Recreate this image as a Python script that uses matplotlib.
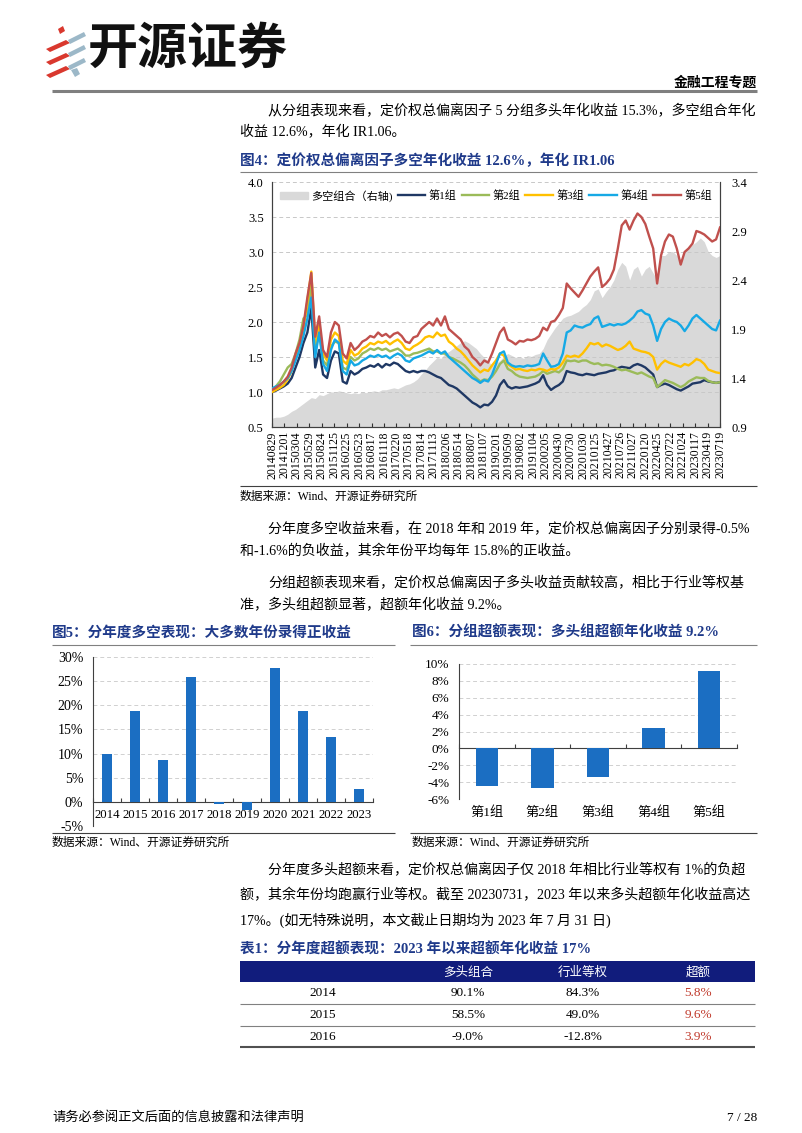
import matplotlib
matplotlib.use("Agg")
import matplotlib.pyplot as plt
from matplotlib.lines import Line2D
from matplotlib.patches import Patch, Polygon, Rectangle
from matplotlib.ticker import FuncFormatter, FixedLocator, NullFormatter
import numpy as np

FAM = ['Liberation Serif', 'Noto Sans CJK SC']
plt.rcParams['font.family'] = FAM
plt.rcParams['axes.unicode_minus'] = False

# ---------------- data ----------------
dates = ['20140829', '20141201', '20150304', '20150529', '20150824', '20151125', '20160225',
         '20160523', '20160817', '20161118', '20170220', '20170518', '20170814', '20171113',
         '20180206', '20180514', '20180807', '20181107', '20190201', '20190509', '20190802',
         '20191104', '20200205', '20200430', '20200730', '20201030', '20210125', '20210427',
         '20210726', '20211027', '20220120', '20220425', '20220722', '20221024', '20230117',
         '20230419', '20230719']

group5 = [1.03, 1.06, 1.10, 1.15, 1.22, 1.35, 1.55, 1.70, 1.95, 2.35, 2.70, 1.79, 2.08, 1.60, 1.50, 1.85, 2.00, 1.95, 1.55, 1.48,
          1.70, 1.60, 1.65, 1.72, 1.75, 1.80, 1.78, 1.85, 1.80, 1.83,
          1.78, 1.83, 1.85, 1.80, 1.72, 1.70, 1.78, 1.80, 1.90, 1.95,
          2.00, 1.95, 2.05, 1.95, 2.08, 1.90, 1.85, 1.80, 1.75, 1.65,
          1.60, 1.50, 1.45, 1.38, 1.45, 1.42, 1.55, 1.70, 1.85, 1.92,
          1.75, 1.72, 1.68, 1.73, 1.72, 1.75, 1.74, 1.76, 1.80, 1.92,
          1.88, 2.00, 2.02, 2.10, 2.20, 2.55, 2.48, 2.42, 2.36, 2.45,
          2.55, 2.65, 2.72, 2.78, 2.50, 2.55, 2.62, 2.75, 3.05, 3.38,
          3.45, 3.32, 3.45, 3.55, 3.50, 3.40, 3.22, 3.05, 2.55, 2.95,
          3.15, 3.25, 3.22, 3.05, 2.82, 3.00, 3.05, 3.12, 3.30, 3.28,
          3.25, 3.20, 3.15, 3.18, 3.35]

group3 = [1.00, 1.03, 1.06, 1.10, 1.18, 1.30, 1.50, 1.65, 1.90, 2.30, 2.72, 1.70, 1.95, 1.55, 1.45, 1.75, 1.85, 1.80, 1.45, 1.40,
          1.60, 1.52, 1.55, 1.62, 1.65, 1.70, 1.68, 1.72, 1.70, 1.73,
          1.68, 1.72, 1.75, 1.70, 1.62, 1.60, 1.65, 1.68, 1.72, 1.78,
          1.80, 1.78, 1.85, 1.80, 1.82, 1.72, 1.68, 1.62, 1.58, 1.52,
          1.45, 1.38, 1.33, 1.28, 1.32, 1.30, 1.38, 1.45, 1.55, 1.52,
          1.40, 1.36, 1.32, 1.33, 1.31, 1.30, 1.32, 1.31, 1.33, 1.32,
          1.30, 1.33, 1.32, 1.35, 1.42, 1.52, 1.50, 1.52, 1.50, 1.55,
          1.62, 1.70, 1.68, 1.70, 1.65, 1.68, 1.66, 1.63, 1.60, 1.62,
          1.66, 1.72, 1.62, 1.60, 1.58, 1.57, 1.55, 1.50, 1.32, 1.40,
          1.45, 1.42, 1.40, 1.38, 1.36, 1.40, 1.38, 1.42, 1.47, 1.45,
          1.40, 1.32, 1.30, 1.28, 1.27]

group2 = [1.02, 1.08, 1.15, 1.25, 1.35, 1.40, 1.55, 1.75, 2.05, 2.10, 2.55, 1.60, 1.85, 1.45, 1.38, 1.65, 1.72, 1.70, 1.35, 1.32,
          1.50, 1.45, 1.48, 1.55, 1.58, 1.62, 1.60, 1.63, 1.60, 1.62,
          1.58, 1.60, 1.62, 1.58, 1.52, 1.52, 1.55, 1.56, 1.58, 1.60,
          1.62, 1.58, 1.58, 1.55, 1.55, 1.50, 1.48, 1.45, 1.42, 1.38,
          1.32, 1.25, 1.20, 1.15, 1.18, 1.17, 1.22, 1.30, 1.40, 1.45,
          1.33, 1.30, 1.25, 1.22, 1.21, 1.20, 1.21, 1.22, 1.25, 1.30,
          1.26, 1.28, 1.30, 1.28, 1.33, 1.45, 1.44, 1.45, 1.43, 1.45,
          1.45, 1.42, 1.40, 1.41, 1.38, 1.39, 1.38, 1.36, 1.33, 1.31,
          1.32, 1.30, 1.28, 1.26, 1.28, 1.25, 1.22, 1.20, 1.07, 1.12,
          1.17, 1.15, 1.13, 1.10, 1.07, 1.10, 1.15, 1.18, 1.21, 1.20,
          1.20, 1.16, 1.14, 1.13, 1.14]

group4 = [1.05, 1.08, 1.10, 1.15, 1.20, 1.30, 1.45, 1.60, 1.80, 2.05, 2.35, 1.50, 1.85, 1.40, 1.30, 1.60, 1.75, 1.70, 1.30, 1.25,
          1.45, 1.38, 1.40, 1.45, 1.48, 1.52, 1.50, 1.53, 1.50, 1.52,
          1.48, 1.52, 1.55, 1.52, 1.45, 1.43, 1.48, 1.50, 1.52, 1.55,
          1.58, 1.55, 1.60, 1.55, 1.58, 1.50, 1.45, 1.40, 1.35, 1.30,
          1.25, 1.20, 1.17, 1.13, 1.17, 1.15, 1.25, 1.40, 1.55, 1.58,
          1.42, 1.38, 1.36, 1.37, 1.36, 1.38, 1.37, 1.38, 1.40, 1.55,
          1.45, 1.36, 1.37, 1.40, 1.55, 1.85, 1.88, 1.95, 1.93, 1.92,
          1.95, 1.97, 2.05, 2.08, 1.93, 1.95, 1.97, 1.95, 1.97, 1.96,
          1.98, 2.02, 2.07, 2.15, 2.17, 2.12, 2.10, 1.95, 1.73, 1.90,
          2.00, 2.05, 2.02, 2.00, 1.95, 1.87, 1.95, 2.05, 2.10, 2.05,
          2.00, 1.95, 1.90, 1.88, 2.02]

group1 = [1.00, 1.02, 1.05, 1.08, 1.12, 1.20, 1.35, 1.50, 1.70, 1.85, 2.20, 1.35, 1.60, 1.25, 1.20, 1.45, 1.58, 1.55, 1.15, 1.12,
          1.30, 1.25, 1.28, 1.33, 1.35, 1.38, 1.36, 1.40, 1.35, 1.40,
          1.38, 1.42, 1.40, 1.35, 1.30, 1.28, 1.30, 1.28, 1.30, 1.30,
          1.28, 1.25, 1.22, 1.20, 1.15, 1.10, 1.08, 1.05, 1.00, 0.95,
          0.90, 0.85, 0.82, 0.78, 0.82, 0.81, 0.86, 0.95, 1.10, 1.17,
          1.08, 1.05, 1.07, 1.06, 1.07, 1.08, 1.10, 1.12, 1.15, 1.24,
          1.10, 1.03, 1.07, 1.10, 1.15, 1.30, 1.28, 1.27, 1.25, 1.24,
          1.26, 1.25, 1.24, 1.26, 1.27, 1.28, 1.30, 1.31, 1.34, 1.36,
          1.35, 1.34, 1.38, 1.40, 1.38, 1.35, 1.30, 1.25, 1.07, 1.10,
          1.12, 1.10, 1.07, 1.04, 1.02, 1.05, 1.08, 1.12, 1.13, 1.14,
          1.17, 1.15, 1.14, 1.13, 1.14]

long_short = [0.99, 1.00, 1.00, 1.01, 1.03, 1.06, 1.08, 1.11, 1.14, 1.17, 1.20, 1.19, 1.23, 1.22, 1.24, 1.26, 1.25, 1.27, 1.26, 1.25,
              1.24, 1.25, 1.24, 1.26, 1.25, 1.26, 1.27, 1.26, 1.28, 1.28,
              1.29, 1.30, 1.29, 1.31, 1.33, 1.34, 1.36, 1.39, 1.44, 1.48,
              1.53, 1.57, 1.61, 1.60, 1.65, 1.67, 1.70, 1.73, 1.76, 1.78,
              1.76, 1.73, 1.70, 1.65, 1.61, 1.57, 1.53, 1.55, 1.58, 1.62,
              1.65, 1.63, 1.61, 1.62, 1.60, 1.63, 1.62, 1.64, 1.65, 1.70,
              1.79, 1.85, 1.91, 1.96, 2.01, 2.03, 2.04, 2.06, 2.08, 2.12,
              2.15, 2.20, 2.29, 2.31, 2.22, 2.28, 2.33, 2.40, 2.51, 2.58,
              2.54, 2.40, 2.51, 2.54, 2.44, 2.51, 2.54, 2.47, 2.40, 2.65,
              2.65, 2.69, 2.69, 2.65, 2.61, 2.69, 2.72, 2.76, 2.79, 2.83,
              2.79, 2.69, 2.65, 2.63, 2.65]

years = ['2014', '2015', '2016', '2017', '2018', '2019', '2020', '2021', '2022', '2023']
yearly_ls = [0.100, 0.188, 0.086, 0.258, -0.005, -0.016, 0.278, 0.189, 0.135, 0.026]

groups = ['第1组', '第2组', '第3组', '第4组', '第5组']
excess = [-0.045, -0.047, -0.034, 0.024, 0.092]

tbl_cols = ['多头组合', '行业等权', '超额']
tbl_years = ['2014', '2015', '2016']
tbl_long = ['90.1%', '58.5%', '-9.0%']
tbl_bench = ['84.3%', '49.0%', '-12.8%']
tbl_excess = ['5.8%', '9.6%', '3.9%']

# ---------------- page helpers ----------------
W, H = 802, 1133
fig = plt.figure(figsize=(W / 100, H / 100), dpi=100)
NAVY_T = '#1F3A8A'


def T(x, y, s, size=10, ha='left', va='center', **kw):
    return fig.text(x / W, 1 - y / H, s, fontsize=size, ha=ha, va=va, **kw)


def hline(x0, x1, y, lw=1.0, color='#404040'):
    fig.add_artist(Line2D([x0 / W, x1 / W], [1 - y / H] * 2, transform=fig.transFigure,
                          lw=lw, color=color, solid_capstyle='butt'))


def axes_px(l, t, r, b):
    return fig.add_axes([l / W, 1 - b / H, (r - l) / W, (b - t) / H])


def poly(pts, color):
    fig.add_artist(Polygon([(x / W, 1 - y / H) for x, y in pts], closed=True,
                           transform=fig.transFigure, color=color, lw=0))


# ---------------- header ----------------
RED = '#D9382E'
BLU = '#9CB8C8'
for y0 in (40, 53, 66):
    poly([(46, y0 + 9), (66, y0), (70, y0 + 3), (50, y0 + 12)], RED)
poly([(58, 29), (63, 26), (65, 31), (60, 34)], RED)
for y0 in (32, 45, 58):
    poly([(68, y0 + 8), (84, y0), (86, y0 + 4), (70, y0 + 12)], BLU)
poly([(71, 70), (77, 68), (80, 74), (75, 77)], BLU)
T(88, 49, '开源证券', size=36, family='Noto Sans CJK SC', weight='bold', color='#111111')
T(757, 83, '金融工程专题', size=10, ha='right', weight='bold', family=['Noto Sans CJK SC'])
hline(52, 757, 91, lw=2.2, color='#7F7F7F')

# ---------------- paragraph 1 ----------------
T(268, 111, '从分组表现来看，定价权总偏离因子 5 分组多头年化收益 15.3%，多空组合年化', size=10.1)
T(240, 132, '收益 12.6%，年化 IR1.06。', size=10.1)

# ---------------- figure 4 ----------------
T(240, 161, '图4：定价权总偏离因子多空年化收益 12.6%，年化 IR1.06', size=10.5, weight='bold', color=NAVY_T)
hline(240, 757, 172, lw=0.8, color='#808080')

ax = axes_px(272, 182, 720, 427)
ax2 = ax.twinx()
x = np.arange(len(group1))
ax2.fill_between(x, 0.9, long_short, color='#D9D9D9', lw=0)
ax2.set_ylim(0.9, 3.4)
ax2.set_yticks([0.9, 1.4, 1.9, 2.4, 2.9, 3.4])
ax2.yaxis.set_major_formatter(FuncFormatter(lambda v, p: f'{v:.1f}'))

cols = {'第1组': '#1F3864', '第2组': '#9BBB59', '第3组': '#FFC000', '第4组': '#16A9E5', '第5组': '#C0504D'}
series = [group1, group2, group3, group4, group5]
for name, s in zip(groups, series):
    ax.plot(x, s, color=cols[name], lw=1.7, zorder=3)
ax.set_zorder(ax2.get_zorder() + 1)
ax.patch.set_visible(False)
ax.set_ylim(0.5, 4.0)
ax.set_yticks(np.arange(0.5, 4.01, 0.5))
ax.yaxis.set_major_formatter(FuncFormatter(lambda v, p: f'{v:.1f}'))
ax.set_xlim(0, len(x) - 1)
tick_pos = np.linspace(0, len(x) - 1, len(dates))
ax.set_xticks(tick_pos)
ax.set_xticklabels(dates, rotation=90, fontsize=8.5)
ax.grid(axis='y', ls=(0, (4, 3)), color='#C8C8C8', lw=0.7)
ax.tick_params(axis='x', direction='in', length=3, pad=3, color='#333333')
ax.tick_params(axis='y', length=0, labelsize=9, pad=6)
ax2.tick_params(axis='y', length=0, labelsize=9, pad=8)
for a in (ax, ax2):
    a.spines['top'].set_visible(False)
    for sp in ('left', 'right', 'bottom'):
        a.spines[sp].set_color('#404040')
        a.spines[sp].set_linewidth(0.8)

handles = [Patch(color='#D9D9D9', label='多空组合（右轴)')] + \
          [Line2D([], [], color=cols[g], lw=1.7, label=g) for g in groups]
ax.legend(handles=handles, loc='upper center', bbox_to_anchor=(0.5, 1.0), ncol=6, frameon=False,
          fontsize=8, handlelength=2.5, handletextpad=0.3, columnspacing=0.45, borderaxespad=0.3)

hline(240, 757, 486, lw=0.8, color='#404040')
T(240, 497, '数据来源：Wind、开源证券研究所', size=8.5)

# ---------------- paragraphs 2/3 ----------------
T(268, 529, '分年度多空收益来看，在 2018 年和 2019 年，定价权总偏离因子分别录得-0.5%', size=10.1)
T(240, 551, '和-1.6%的负收益，其余年份平均每年 15.8%的正收益。', size=10.1)
T(268, 583, '分组超额表现来看，定价权总偏离因子多头收益贡献较高，相比于行业等权基', size=10.1)
T(240, 605, '准，多头组超额显著，超额年化收益 9.2%。', size=10.1)

# ---------------- figure 5 ----------------
BAR = '#1B6EC2'
T(52, 633, '图5：分年度多空表现：大多数年份录得正收益', size=10.5, weight='bold', color=NAVY_T)
hline(52, 395, 645, lw=0.8, color='#808080')
ax5 = axes_px(93, 657, 373, 826)
ax5.bar(np.arange(len(years)), yearly_ls, width=0.38, color=BAR, zorder=3)
ax5.set_ylim(-0.05, 0.30)
ax5.set_xlim(-0.5, len(years) - 0.5)
ax5.set_yticks(np.arange(-0.05, 0.301, 0.05))
ax5.yaxis.set_major_formatter(FuncFormatter(lambda v, p: f'{round(v * 100):.0f}%'))
ax5.grid(axis='y', ls=(0, (4, 3)), color='#D0D0D0', lw=0.7, zorder=0)
ax5.spines['top'].set_visible(False)
ax5.spines['right'].set_visible(False)
ax5.spines['bottom'].set_position(('data', 0))
for sp in ('left', 'bottom'):
    ax5.spines[sp].set_color('#404040')
    ax5.spines[sp].set_linewidth(0.8)
ax5.xaxis.set_major_locator(FixedLocator(np.arange(-0.5, len(years), 1.0)))
ax5.xaxis.set_major_formatter(NullFormatter())
ax5.xaxis.set_minor_locator(FixedLocator(np.arange(len(years))))
ax5.set_xticklabels(years, minor=True)
ax5.tick_params(axis='x', which='major', direction='in', length=3, color='#404040')
ax5.tick_params(axis='x', which='minor', length=0, pad=5, labelsize=9.2)
ax5.tick_params(axis='y', length=0, pad=7, labelsize=10)
hline(52, 395, 833, lw=0.8, color='#404040')
T(52, 843, '数据来源：Wind、开源证券研究所', size=8.5)

# ---------------- figure 6 ----------------
T(412, 633, '图6：分组超额表现：多头组超额年化收益 9.2%', size=10.5, weight='bold', color=NAVY_T)
hline(410, 757, 645, lw=0.8, color='#808080')
ax6 = axes_px(459, 664, 737, 799)
ax6.bar(np.arange(len(groups)), excess, width=0.4, color=BAR, zorder=3)
ax6.set_ylim(-0.06, 0.10)
ax6.set_xlim(-0.5, len(groups) - 0.5)
ax6.set_yticks(np.arange(-0.06, 0.101, 0.02))
ax6.yaxis.set_major_formatter(FuncFormatter(lambda v, p: f'{round(v * 100):.0f}%'))
ax6.grid(axis='y', ls=(0, (4, 3)), color='#D0D0D0', lw=0.7, zorder=0)
ax6.spines['top'].set_visible(False)
ax6.spines['right'].set_visible(False)
ax6.spines['bottom'].set_position(('data', 0))
for sp in ('left', 'bottom'):
    ax6.spines[sp].set_color('#404040')
    ax6.spines[sp].set_linewidth(0.8)
ax6.xaxis.set_major_locator(FixedLocator(np.arange(-0.5, len(groups), 1.0)))
ax6.xaxis.set_major_formatter(NullFormatter())
ax6.xaxis.set_minor_locator(FixedLocator(np.arange(len(groups))))
ax6.set_xticklabels(groups, minor=True)
ax6.tick_params(axis='x', which='major', direction='in', length=3, color='#404040')
ax6.tick_params(axis='x', which='minor', length=0, pad=42, labelsize=9.5)
ax6.tick_params(axis='y', length=0, pad=7, labelsize=9.5)
hline(410, 757, 833, lw=0.8, color='#404040')
T(412, 843, '数据来源：Wind、开源证券研究所', size=8.5)

# ---------------- paragraph 4 ----------------
T(268, 870, '分年度多头超额来看，定价权总偏离因子仅 2018 年相比行业等权有 1%的负超', size=10.1)
T(240, 895, '额，其余年份均跑赢行业等权。截至 20230731，2023 年以来多头超额年化收益高达', size=10.1)
T(240, 920, '17%。(如无特殊说明，本文截止日期均为 2023 年 7 月 31 日)', size=10.1)

# ---------------- table ----------------
T(240, 950, '表1：分年度超额表现：2023 年以来超额年化收益 17%', size=10.5, weight='bold', color=NAVY_T)
fig.add_artist(Rectangle((240 / W, 1 - 982 / H), (755 - 240) / W, 21 / H, transform=fig.transFigure,
                         color='#111C7C', lw=0))
col_x = [323, 468, 583, 698]
for cx, c in zip(col_x[1:], tbl_cols):
    T(cx, 972, c, size=9, ha='center', color='white', family=['Noto Sans CJK SC'])
row_y = [993, 1015, 1037]
for ry, yr, a, b, c in zip(row_y, tbl_years, tbl_long, tbl_bench, tbl_excess):
    T(col_x[0], ry, yr, size=9.5, ha='center')
    T(col_x[1], ry, a, size=9.5, ha='center')
    T(col_x[2], ry, b, size=9.5, ha='center')
    T(col_x[3], ry, c, size=9.5, ha='center', color='#C0392B')
hline(240, 755, 1004, lw=0.8, color='#808080')
hline(240, 755, 1026, lw=0.8, color='#808080')
hline(240, 755, 1047, lw=1.5, color='#505050')

# ---------------- footer ----------------
T(52, 1118, '请务必参阅正文后面的信息披露和法律声明', size=9.5)
T(757, 1118, '7 / 28', size=9.5, ha='right')

fig.savefig('out.png', dpi=100)
